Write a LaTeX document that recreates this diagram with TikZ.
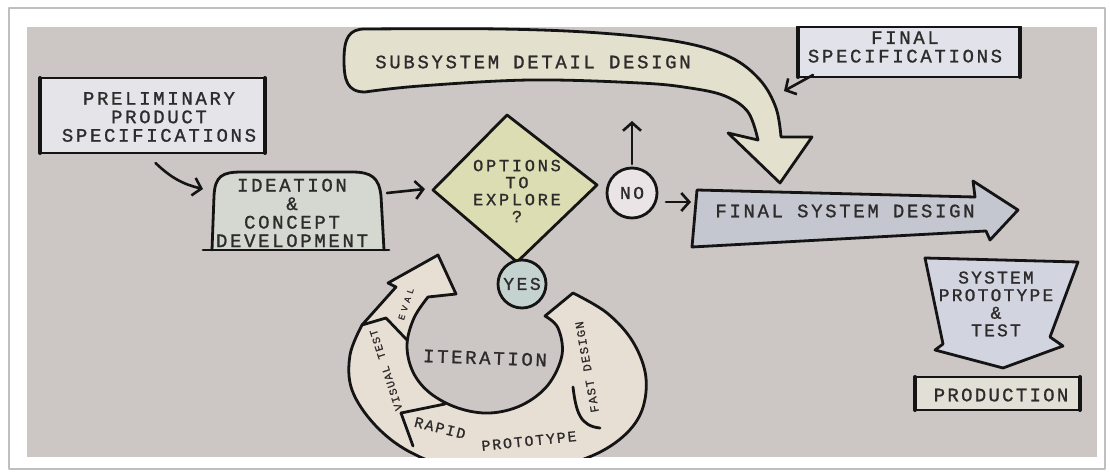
\documentclass[tikz,border=0pt]{standalone}
\usepackage{fontspec}
\newfontfamily\hand[LetterSpace=14,FakeBold=1.1]{Liberation Mono}
\newfontfamily\handb[LetterSpace=16,FakeBold=1.1]{Liberation Mono}
\newfontfamily\handc[LetterSpace=12,FakeBold=1.1]{Liberation Mono}
\newfontfamily\handsm[LetterSpace=12,FakeBold=0.8]{Liberation Mono}
\newfontfamily\handev[LetterSpace=42,FakeBold=0.8]{Liberation Mono}
\usetikzlibrary{arrows.meta,calc}
\definecolor{panel}{RGB}{204,198,197}
\definecolor{txt}{RGB}{45,43,43}
\definecolor{prelimfill}{RGB}{228,228,233}
\definecolor{ideafill}{RGB}{212,216,208}
\definecolor{diafill}{RGB}{220,221,178}
\definecolor{nofill}{RGB}{234,228,230}
\definecolor{yesfill}{RGB}{196,210,208}
\definecolor{ringfill}{RGB}{231,222,212}
\definecolor{subfill}{RGB}{228,224,206}
\definecolor{specfill}{RGB}{226,227,234}
\definecolor{fsdfill}{RGB}{196,198,208}
\definecolor{sptfill}{RGB}{210,212,224}
\definecolor{prodfill}{RGB}{226,223,214}
\begin{document}
\begin{tikzpicture}[x=1pt,y=-1pt,line join=round,line cap=round,
  ink/.style={draw=black!92,line width=2.8pt},
  lbl/.style={font=\hand\fontsize{19}{18.5}\selectfont,text=txt,align=center,inner sep=0pt},
  rl/.style={text=txt,inner sep=0pt},
  arr/.style={draw=black!92,line width=2.6pt,-{Straight Barb[length=8pt,width=18pt]}},
  hold/.style={inner sep=0pt,outer sep=0pt}]
\useasboundingbox (0,0) rectangle (1110,473);
\fill[white] (0,0) rectangle (1110,473);
\draw[black!25,line width=1.2pt] (9,8) rectangle (1105,469);
\fill[panel] (27,27) rectangle (1097,457);
\begin{scope}
\clip (27,27) rectangle (1097,457);

% preliminary specs
\node[ink,fill=prelimfill,minimum width=225pt,minimum height=75pt,hold] (prelim) at (152.5,115.5) {};
\draw[black!92,line width=4pt] (prelim.north west) -- (prelim.south west);
\draw[black!92,line width=4pt] (prelim.north east) -- (prelim.south east);
\node[lbl] (prelimtxt) at (159,117) {PRELIMINARY\\PRODUCT\\SPECIFICATIONS};

% ideation
\draw[ink,fill=ideafill] (212,250) -- (214,196) .. controls (215,176) and (222,172) .. (242,172) -- (352,172) .. controls (372,172) and (379,178) .. (381,196) -- (384,250);
\draw[ink] (203,250) -- (389,250);
\node[hold,minimum width=171pt,minimum height=78pt] (ideation) at (297.5,211) {};
\node[lbl] (ideatxt) at (292,213) {IDEATION\\\&\\CONCEPT\\DEVELOPMENT};

% subsystem detail design
\draw[ink,fill=subfill]
  plot[smooth,tension=0.6] coordinates {(365,29) (500,29) (600,33) (680,42) (730,57) (760,80) (776,108) (781,137)}
  -- (812,137) -- (780,183) -- (728,133) -- (758,140)
  -- plot[smooth,tension=0.6] coordinates {(758,140) (748,112) (725,96) (690,88) (640,83) (530,80) (420,86) (365,92)}
  .. controls (347,92) and (344,80) .. (344,60) .. controls (344,38) and (349,29) .. (365,29) -- cycle;
\node[lbl] (sub) at (533,62) {SUBSYSTEM DETAIL DESIGN};

% final specifications
\node[ink,fill=specfill,minimum width=222pt,minimum height=50pt,hold] (spec) at (909,52) {};
\draw[black!92,line width=4pt] (spec.north west) -- (spec.south west);
\draw[black!92,line width=4pt] (spec.north east) -- (spec.south east);
\node[lbl] (spectxt) at (905,47) {FINAL\\SPECIFICATIONS};

% diamond
\draw[ink,fill=diafill] (433,190) -- (507,115) -- (597,185) -- (517,262) -- cycle;
\node[lbl,font=\handb\fontsize{17}{17}\selectfont] (opt) at (517,191) {OPTIONS\\TO\\EXPLORE\\?};

% NO
\node[ink,circle,fill=nofill,minimum size=50pt,hold,text=txt,font=\hand\fontsize{18}{18}\selectfont] (no) at (632,193) {NO};

% final system design
\draw[ink,fill=fsdfill] (697,190) -- (975,197) -- (973,181) -- (1018,210) -- (990,240) -- (986,231) -- (692,247) -- cycle;
\node[lbl] (fsd) at (845,211) {FINAL SYSTEM DESIGN};

% system prototype & test
\draw[ink,fill=sptfill] (925,258) -- (1078,262) -- (1050,337) -- (1063,346) -- (1003,368) -- (935,350) -- (943,344) -- cycle;
\node[lbl,font=\handc\fontsize{18}{17.6}\selectfont] (spt) at (996,304) {SYSTEM\\PROTOTYPE\\\&\\TEST};

% production
\node[ink,fill=prodfill,minimum width=165pt,minimum height=33pt,hold] (prod) at (997.5,393.5) {};
\draw[black!92,line width=4pt] (prod.north west) -- (prod.south west);
\draw[black!92,line width=4pt] (prod.north east) -- (prod.south east);
\node[lbl,font=\handc\fontsize{19}{19}\selectfont] (prodtxt) at (1001,395) {PRODUCTION};

% iteration ring
\draw[ink,fill=ringfill]
  plot[smooth,tension=0.6] coordinates {(573,293) (607,313) (633,342) (646,378) (640,415) (615,443) (575,462) (520,472) (460,470) (410,452) (375,425) (352,390) (350,355) (362,325)}
  -- (396,287) -- (388,283) -- (438,255) -- (456,294) -- (428,297)
  -- plot[smooth,tension=0.6] coordinates {(428,297) (414,318) (407,345) (413,372) (430,393) (458,408) (490,413) (522,405) (548,385) (562,355) (558,328) (545,316)}
  -- cycle;
\draw[ink] (362,325) -- (386,318) -- (407,340);
\draw[ink] (401,413) -- (445,404);
\draw[ink] (401,413) -- (413,446);
\draw[ink] (573,387) .. controls (576,412) and (580,426) .. (600,428);
\node[ink,circle,fill=yesfill,minimum size=48pt,hold,text=txt,font=\hand\fontsize{18}{18}\selectfont] (yes) at (522,284) {YES};
\node[lbl,rotate=-2] (iter) at (485,358) {ITERATION};
\node[rl,font=\handev\fontsize{9}{9}\selectfont,rotate=72] (evl) at (406,304) {EVAL};
\node[rl,font=\handsm\fontsize{11}{11}\selectfont,rotate=108] (vt) at (386,370) {VISUAL TEST};
\node[rl,font=\handsm\fontsize{15}{15}\selectfont,rotate=-14] (rp1) at (440,428) {RAPID};
\node[rl,font=\handsm\fontsize{15}{15}\selectfont,rotate=6] (rp2) at (529,441) {PROTOTYPE};
\node[rl,font=\handsm\fontsize{12}{12}\selectfont,rotate=100] (fd) at (587,367) {FAST DESIGN};

% connectors
\coordinate (ideaIn) at (203,189);
\coordinate (optIn) at (425,189);
\coordinate (noUp) at (632,121);
\coordinate (fsdIn) at (691,202);
\coordinate (subIn) at (784,91);
\draw[arr] ($(prelim.south)+(3,10)$) to[bend right=15] (ideaIn);
\draw[arr] ($(ideation.east)+(4,-18)$) -- (optIn);
\draw[arr] ($(no.north)+(0,-4)$) -- (noUp);
\draw[arr] ($(no.east)+(9,9)$) -- (fsdIn);
\draw[arr] ($(spec.south west)+(15,-2)$) -- (subIn);
\end{scope}
\end{tikzpicture}
\end{document}
